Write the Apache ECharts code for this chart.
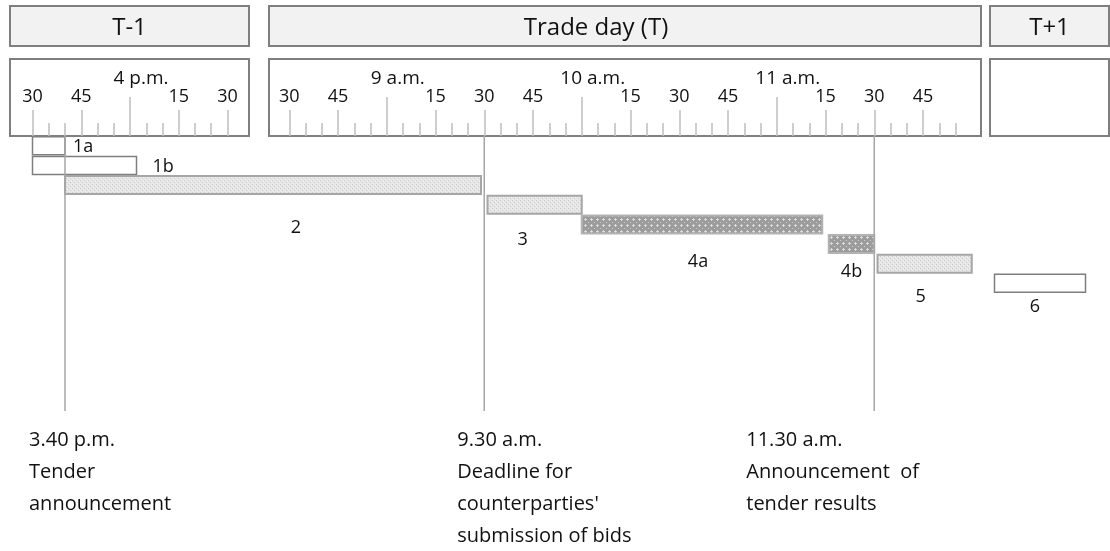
<!DOCTYPE html>
<html><head><meta charset="utf-8">
<script src="https://cdn.jsdelivr.net/npm/echarts@6/dist/echarts.min.js"></script>
<style>html,body{margin:0;padding:0;background:#fff}#c{width:1110px;height:551px}</style>
</head><body><div id="c"></div>
<script>
// ================= DATA =================
// compressed timeline: each day is placed on one continuous minute axis
const dayBase = { 'T-1': 0, 'T': 79, 'T+1': 266 };
const dayRefHour = { 'T-1': 15, 'T': 8, 'T+1': 8 };

const panelNames = ['T-1', 'Trade day (T)', 'T+1'];

// ruler ticks
const t1QuarterTicks = ['15:30', '15:45', '16:15', '16:30'];
const t1HourTicks = ['16:00'];
const t1HourLabels = ['4 p.m.'];
const t1MinorRange = ['15:30', '16:30'];
const tQuarterTicks = ['08:30', '08:45', '09:15', '09:30', '09:45', '10:15', '10:30', '10:45', '11:15', '11:30', '11:45'];
const tHourTicks = ['09:00', '10:00', '11:00'];
const tHourLabels = ['9 a.m.', '10 a.m.', '11 a.m.'];
const tMinorRange = ['08:30', '11:55'];

// bars (steps)
const barNames = ['1a', '1b', '2', '3', '4a', '4b', '5', '6'];
const barRow = [0, 1, 2, 3, 4, 5, 6, 7];
const barStartDay = ['T-1', 'T-1', 'T-1', 'T', 'T', 'T', 'T', 'T+1'];
const barStart = ['15:30', '15:30', '15:40', '09:31', '10:00', '11:16', '11:31', '09:00'];
const barEndDay = ['T-1', 'T-1', 'T', 'T', 'T', 'T', 'T', 'T+1'];
const barEnd = ['15:40', '16:02', '09:29', '10:00', '11:14', '11:30', '12:00', '09:28'];
const barKind = ['open', 'open', 'light', 'light', 'dark', 'dark', 'light', 'open'];

// key moments
const keyDay = ['T-1', 'T', 'T'];
const keyTime = ['15:40', '09:30', '11:30'];
const keyText = [
  ['3.40 p.m.', 'Tender', 'announcement'],
  ['9.30 a.m.', 'Deadline for', "counterparties'", 'submission of bids'],
  ['11.30 a.m.', 'Announcement  of', 'tender results']
];

// ================= HELPERS / STYLE =================
function toU(day, hm) {
  const p = hm.split(':').map(Number);
  return dayBase[day] + (p[0] - dayRefHour[day]) * 60 + p[1];
}
const FONT = '"Open Sans", "Noto Sans", sans-serif';
const TXT = '#111111';
const UMIN = 20, UMAX = 360;

function makePattern(size, base, dots) {
  const c = document.createElement('canvas');
  c.width = size; c.height = size;
  const g = c.getContext('2d');
  g.fillStyle = base; g.fillRect(0, 0, size, size);
  dots.forEach(d => { g.fillStyle = d[2]; g.fillRect(d[0], d[1], 1, 1); });
  return { image: c, repeat: 'repeat' };
}
const lightPat = makePattern(4, '#e6e6e6', [[0, 0, '#c9c9c9'], [2, 2, '#c9c9c9'], [1, 3, '#f2f2f2'], [3, 1, '#f2f2f2']]);
const darkPat = makePattern(6, '#9c9c9c', [[3, 2, '#d6d6d6'], [2, 3, '#d6d6d6'], [3, 3, '#e0e0e0'], [4, 3, '#d6d6d6'], [3, 4, '#d6d6d6'], [0, 0, '#cdcdcd']]);
const kindStyle = {
  open: { fill: '#ffffff', stroke: '#7f7f7f', lineWidth: 1.5 },
  light: { fill: lightPat, stroke: '#a6a6a6', lineWidth: 2 },
  dark: { fill: darkPat, stroke: '#b3b3b3', lineWidth: 2 }
};
// label placement (layout)
const labelSide = ['right', 'right', 'below', 'below', 'below', 'below', 'below', 'below'];
const labelDx = [8, 16, 23, -12, -4, 0, -4, -5];
const labelDy = [0, 0, 34, 26, 28, 19, 24, 15];
const keyTextDx = [-36, -27, -128];
const panelX = [[10, 249], [269, 981], [990, 1109]];
const panelTextX = [129.5, 596, 1049.5];

// tick values
function minorVals(day, range) {
  const out = []; const a = toU(day, range[0]), b = toU(day, range[1]);
  for (let u = a; u <= b; u += 5) out.push(u);
  return out;
}
const minorTicks = minorVals('T-1', t1MinorRange).concat(minorVals('T', tMinorRange));
const quarterTicks = t1QuarterTicks.map(t => toU('T-1', t)).concat(tQuarterTicks.map(t => toU('T', t)));
const quarterLabelMap = {};
t1QuarterTicks.forEach(t => { quarterLabelMap[toU('T-1', t)] = t.split(':')[1]; });
tQuarterTicks.forEach(t => { quarterLabelMap[toU('T', t)] = t.split(':')[1]; });
const hourTicks = t1HourTicks.map(t => toU('T-1', t)).concat(tHourTicks.map(t => toU('T', t)));
const hourLabelMap = {};
t1HourTicks.forEach((t, i) => { hourLabelMap[toU('T-1', t)] = t1HourLabels[i]; });
tHourTicks.forEach((t, i) => { hourLabelMap[toU('T', t)] = tHourLabels[i]; });

const barData = barNames.map((n, i) => [toU(barStartDay[i], barStart[i]), toU(barEndDay[i], barEnd[i]), barRow[i]]);
const keyData = keyTime.map((t, i) => [toU(keyDay[i], t), 0]);

const graphics = [];
panelX.forEach((p, i) => {
  graphics.push({ type: 'rect', z: 0, shape: { x: p[0], y: 6, width: p[1] - p[0], height: 40 },
    style: { fill: '#f2f2f2', stroke: '#7f7f7f', lineWidth: 2 } });
  graphics.push({ type: 'text', z: 1, style: { text: panelNames[i], x: panelTextX[i], y: 28,
    align: 'center', verticalAlign: 'middle', fill: TXT, font: '24px ' + FONT } });
  graphics.push({ type: 'rect', z: 0, shape: { x: p[0], y: 59, width: p[1] - p[0], height: 77 },
    style: { fill: '#ffffff', stroke: '#7f7f7f', lineWidth: 2 } });
});

function topAxis(ticks, len, labelOpt) {
  return {
    gridIndex: 0, type: 'value', position: 'top', min: UMIN, max: UMAX, z: 10,
    axisLine: { show: false, onZero: false }, splitLine: { show: false },
    axisTick: { show: true, inside: false, length: len, customValues: ticks, lineStyle: { color: '#bfbfbf', width: 1.5 } },
    axisLabel: labelOpt || { show: false }
  };
}

const chart = echarts.init(document.getElementById('c'), null, { renderer: 'canvas' });
chart.setOption({
  animation: false,
  backgroundColor: '#ffffff',
  grid: [{ left: 0, right: 5, top: 136, bottom: 140 }],
  xAxis: [
    topAxis(minorTicks, 13),
    topAxis(quarterTicks, 26, { show: true, customValues: quarterTicks, margin: 30,
      formatter: v => quarterLabelMap[v] || '', fontSize: 18, fontFamily: FONT, color: TXT }),
    topAxis(hourTicks, 39, { show: true, customValues: hourTicks, margin: 48, padding: [0, 0, 0, 22],
      formatter: v => hourLabelMap[v] || '', fontSize: 19, fontFamily: FONT, color: TXT })
  ],
  yAxis: [{ gridIndex: 0, type: 'value', inverse: true, min: -0.5, max: 13.5, show: false }],
  graphic: graphics,
  series: [
    {
      type: 'custom', xAxisIndex: 0, yAxisIndex: 0, clip: false, z: 3,
      encode: { x: [0, 1], y: 2 },
      data: barData,
      renderItem: function (params, api) {
        const i = params.dataIndex;
        const p0 = api.coord([api.value(0), api.value(2)]);
        const p1 = api.coord([api.value(1), api.value(2)]);
        const h = 18;
        const st = kindStyle[barKind[i]];
        const children = [{
          type: 'rect',
          shape: { x: p0[0], y: p0[1] - h / 2, width: p1[0] - p0[0], height: h },
          style: { fill: st.fill, stroke: st.stroke, lineWidth: st.lineWidth }
        }];
        if (labelSide[i] === 'right') {
          children.push({ type: 'text', style: { text: barNames[i], x: p1[0] + labelDx[i], y: p0[1] + 1,
            align: 'left', verticalAlign: 'middle', fill: TXT, font: '18px ' + FONT } });
        } else {
          children.push({ type: 'text', style: { text: barNames[i], x: (p0[0] + p1[0]) / 2 + labelDx[i],
            y: p0[1] + h / 2 + labelDy[i], align: 'center', verticalAlign: 'middle', fill: TXT, font: '18px ' + FONT } });
        }
        return { type: 'group', children: children };
      }
    },
    {
      type: 'custom', xAxisIndex: 0, yAxisIndex: 0, clip: false, z: 4,
      encode: { x: 0, y: 1 },
      data: keyData,
      renderItem: function (params, api) {
        const i = params.dataIndex;
        const cs = params.coordSys;
        const x = api.coord([api.value(0), 0])[0];
        return {
          type: 'group', children: [
            { type: 'line', shape: { x1: x, y1: cs.y, x2: x, y2: cs.y + cs.height },
              style: { stroke: '#a6a6a6', lineWidth: 1.5 } },
            { type: 'text', style: { text: keyText[i].join('\n'), x: x + keyTextDx[i], y: cs.y + cs.height + 13,
              align: 'left', verticalAlign: 'top', lineHeight: 32, fill: TXT, font: '20px ' + FONT } }
          ]
        };
      }
    }
  ]
});
</script>
</body></html>
